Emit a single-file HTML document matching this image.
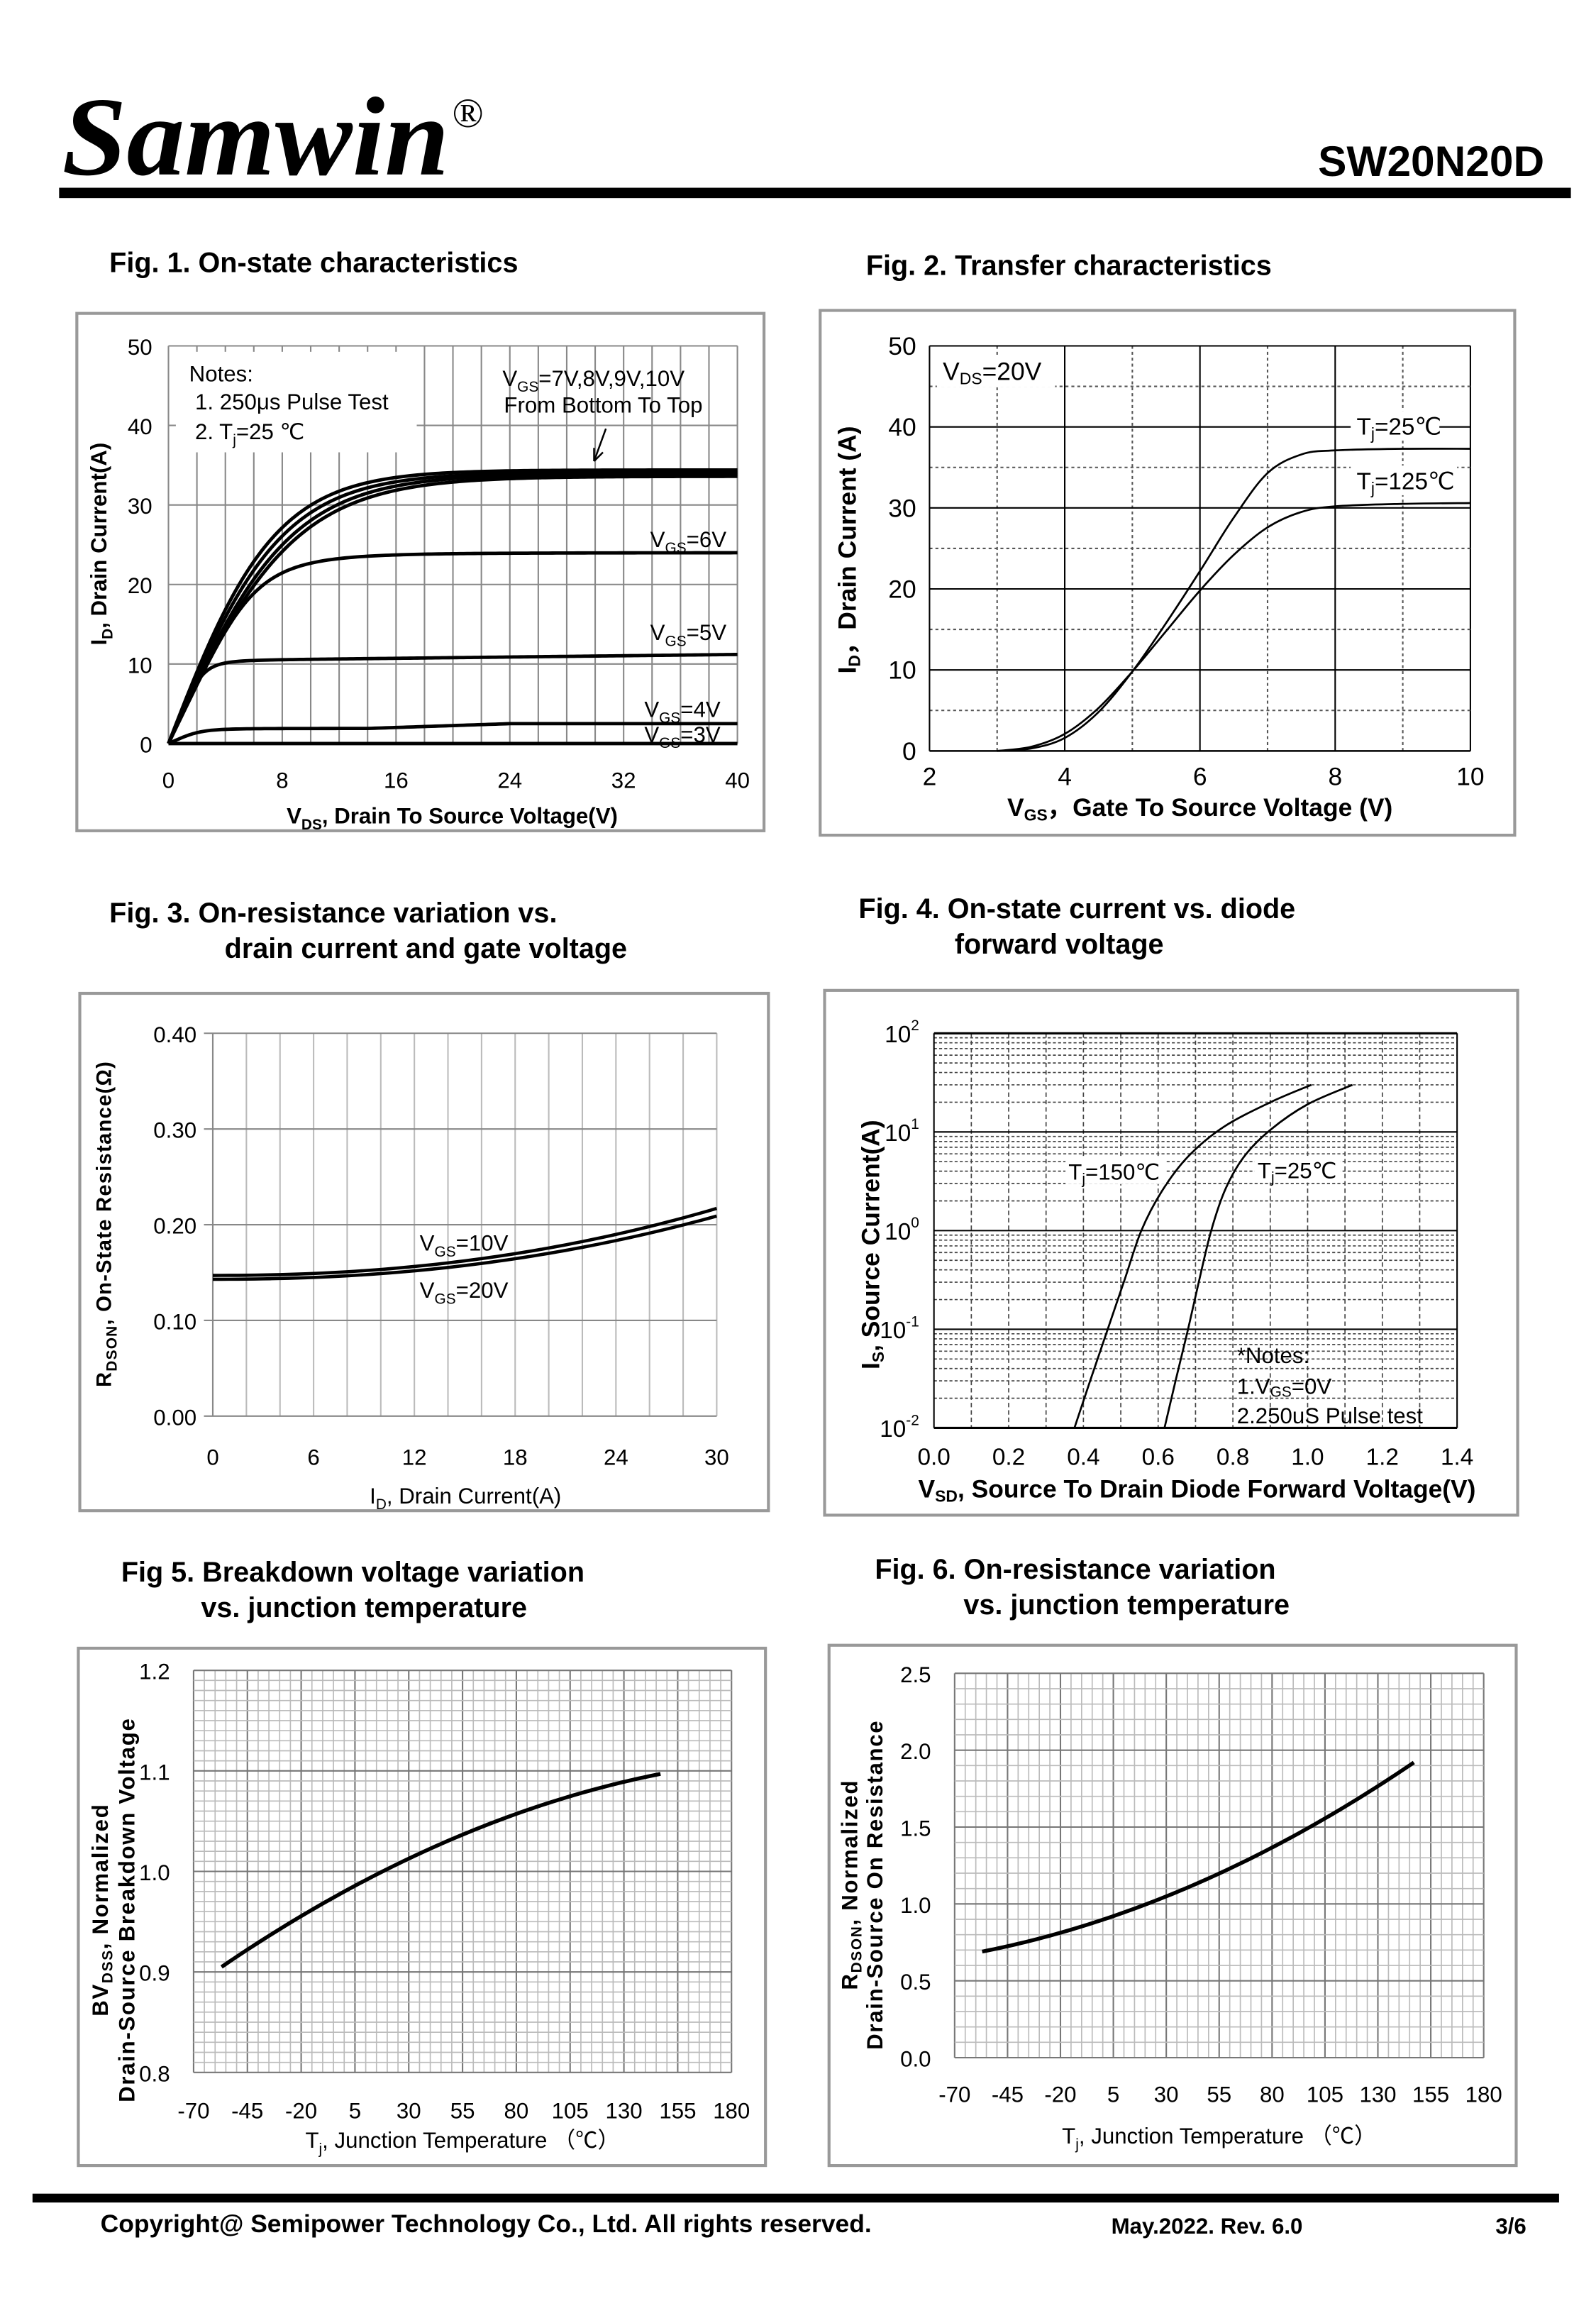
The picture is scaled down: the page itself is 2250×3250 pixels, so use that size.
<!DOCTYPE html>
<html><head><meta charset="utf-8">
<style>
html,body{margin:0;padding:0;background:#fff;}
svg{display:block;}
</style></head>
<body>
<svg id="s" width="2250" height="3250" viewBox="0 0 1080 1560" xmlns="http://www.w3.org/2000/svg" font-family="Liberation Sans, Arial, sans-serif">
<rect width="1080" height="1560" fill="#fff"/>
<text x="42" y="118" font-family="Liberation Serif, serif" font-style="italic" font-weight="bold" font-size="76" textLength="262" lengthAdjust="spacingAndGlyphs">Samwin</text>
<text x="306" y="86" font-family="Liberation Serif, serif" font-size="28">®</text>
<text x="1045" y="119" text-anchor="end" font-weight="bold" font-size="29">SW20N20D</text>
<rect x="40" y="127" width="1023" height="7" fill="#000"/>

<text x="74" y="184" font-weight="bold" font-size="19">Fig. 1. On-state characteristics</text>
<text x="586" y="186" font-weight="bold" font-size="19">Fig. 2. Transfer characteristics</text>
<text x="74" y="624" font-weight="bold" font-size="19">Fig. 3. On-resistance variation vs.</text>
<text x="152" y="648" font-weight="bold" font-size="19">drain current and gate voltage</text>
<text x="581" y="621" font-weight="bold" font-size="19">Fig. 4. On-state current vs. diode</text>
<text x="646" y="645" font-weight="bold" font-size="19">forward voltage</text>
<text x="82" y="1070" font-weight="bold" font-size="19">Fig 5. Breakdown voltage variation</text>
<text x="136" y="1094" font-weight="bold" font-size="19">vs. junction temperature</text>
<text x="592" y="1068" font-weight="bold" font-size="19">Fig. 6. On-resistance variation</text>
<text x="652" y="1092" font-weight="bold" font-size="19">vs. junction temperature</text>

<g id="g"></g>

<rect x="22" y="1484" width="1033" height="6" fill="#000"/>
<text x="68" y="1510" font-weight="bold" font-size="17">Copyright@ Semipower Technology Co., Ltd. All rights reserved.</text>
<text x="752" y="1511" font-weight="bold" font-size="15">May.2022. Rev. 6.0</text>
<text x="1012" y="1511" font-weight="bold" font-size="15">3/6</text>
</svg>
<script>
var g=document.getElementById('g');var h='';
function L(x1,y1,x2,y2,c,w,d){h+='<line x1="'+x1.toFixed(2)+'" y1="'+y1.toFixed(2)+'" x2="'+x2.toFixed(2)+'" y2="'+y2.toFixed(2)+'" stroke="'+(c||'#000')+'" stroke-width="'+(w||1)+'"'+(d?' stroke-dasharray="'+d+'"':'')+'/>';}
function T(x,y,s,fs,a,extra){h+='<text x="'+x+'" y="'+y+'" font-size="'+(fs||14)+'"'+(a?' text-anchor="'+a+'"':'')+(extra||'')+'>'+s+'</text>';}
function box(x1,y1,x2,y2){h+='<rect x="'+x1+'" y="'+y1+'" width="'+(x2-x1)+'" height="'+(y2-y1)+'" fill="none" stroke="#999" stroke-width="2"/>';}
function P(pts,w){var d='';pts.forEach(function(p,i){d+=(i?'L':'M')+p[0].toFixed(2)+' '+p[1].toFixed(2);});h+='<path d="'+d+'" fill="none" stroke="#000" stroke-width="'+(w||2)+'" stroke-linejoin="round"/>';}
function CR(pts,w){var d='M'+pts[0][0].toFixed(2)+' '+pts[0][1].toFixed(2);
for(var i=0;i<pts.length-1;i++){var p0=pts[i-1]||pts[i],p1=pts[i],p2=pts[i+1],p3=pts[i+2]||p2;
var c1=[p1[0]+(p2[0]-p0[0])/6,p1[1]+(p2[1]-p0[1])/6],c2=[p2[0]-(p3[0]-p1[0])/6,p2[1]-(p3[1]-p1[1])/6];
d+='C'+c1[0].toFixed(2)+' '+c1[1].toFixed(2)+' '+c2[0].toFixed(2)+' '+c2[1].toFixed(2)+' '+p2[0].toFixed(2)+' '+p2[1].toFixed(2);}
h+='<path d="'+d+'" fill="none" stroke="#000" stroke-width="'+(w||2)+'"/>';}
function VR(txt,x,y,fs,extra){h+='<text transform="translate('+x+','+y+') rotate(-90)" text-anchor="middle" font-size="'+fs+'" font-weight="bold"'+(extra||'')+'>'+txt+'</text>';}

// ---------- Fig 1 ----------
box(52,212,517,562);
(function(){var X0=114,X1=499,Y0=503,Y1=234;
function fx(v){return X0+(X1-X0)*v/40;}function fy(v){return Y0-(Y0-Y1)*v/50;}
for(var i=1;i<=20;i++){var x=fx(i*2);L(x,Y1,x,Y0,'#888',1);}
for(var j=0;j<=5;j++){L(X0,fy(j*10),X1,fy(j*10),'#888',1);}
L(X0,Y1,X0,Y0,'#888',1);
h+='<rect x="119" y="238" width="163" height="68" fill="#fff"/>';
for(j=0;j<=5;j++)T(103,fy(j*10)+6,j*10,15,'end');
for(i=0;i<=5;i++)T(fx(i*8),533,i*8,15,'middle');
T(128,258,'Notes:',15);T(132,277,'1. 250μs  Pulse Test',15);T(132,297,'2. T<tspan font-size="10" dy="4">j</tspan><tspan dy="-4">=25 ℃</tspan>',15);
T(340,261,'V<tspan font-size="10" dy="4">GS</tspan><tspan dy="-4">=7V,8V,9V,10V</tspan>',15);T(341,279,'From Bottom To Top',15);
L(410,290,402,312,'#000',1.2);L(402,312,402,303,'#000',1.2);L(402,312,408,306,'#000',1.2);
function soft(v,g,Is,n){var a=g*v;return Math.pow(Math.pow(a,-n)+Math.pow(Is,-n),-1/n);}
[[34.4,4.6],[34.1,4.3],[33.9,4.0],[33.6,3.8]].forEach(function(c){var pts=[];for(var v=0;v<=40;v+=0.25){pts.push([fx(v),fy(c[0]*Math.tanh(c[1]*v/c[0]))]);}P(pts,2.3);});
var p6=[[fx(0),fy(0)]];for(var v=0.25;v<=40;v+=0.25){p6.push([fx(v),fy(soft(v,3.7,24,3.5))]);}P(p6,2.3);
var p5=[[fx(0),fy(0)]];for(v=0.25;v<=40;v+=0.25){p5.push([fx(v),fy(soft(v,4.2,10.4,4)+0.8*v/40)]);}P(p5,2.3);
var p4=[[fx(0),fy(0)]];for(v=0.25;v<=40;v+=0.25){var I=soft(v,0.8,1.9,3)+(v>14?Math.min(0.6,(v-14)*0.06):0);p4.push([fx(v),fy(I)]);}P(p4,2.3);
L(X0,fy(0),X1,fy(0),'#000',2.3);
T(440,370,'V<tspan font-size="10" dy="4">GS</tspan><tspan dy="-4">=6V</tspan>',15);
T(440,433,'V<tspan font-size="10" dy="4">GS</tspan><tspan dy="-4">=5V</tspan>',15);
T(436,485,'V<tspan font-size="10" dy="4">GS</tspan><tspan dy="-4">=4V</tspan>',15);
T(436,502,'V<tspan font-size="10" dy="4">GS</tspan><tspan dy="-4">=3V</tspan>',15);
VR('I<tspan font-size="10" dy="4">D</tspan><tspan dy="-4">,  Drain Current(A)</tspan>',72,368,15);
T(306,557,'V<tspan font-size="10" dy="4">DS</tspan><tspan dy="-4">, Drain To Source Voltage(V)</tspan>',15,'middle',' font-weight="bold"');
})();

// ---------- Fig 2 ----------
box(555,210,1025,565);
(function(){var X0=629,X1=995,Y0=508,Y1=234;
function fx(v){return X0+(X1-X0)*(v-2)/8;}function fy(v){return Y0-(Y0-Y1)*v/50;}
for(var i=3;i<=10;i++){var x=fx(i);if(i%2)L(x,Y1,x,Y0,'#555',1,'2,2');else L(x,Y1,x,Y0,'#000',1);}
for(var j=5;j<=50;j+=5){var y=fy(j);if(j%10)L(X0,y,X1,y,'#555',1,'2,2');else L(X0,y,X1,y,'#000',1);}
L(X0,Y1,X0,Y0,'#000',1);L(X0,Y0,X1,Y0,'#000',1.2);
for(j=0;j<=50;j+=10)T(620,fy(j)+6,j,17,'end');
for(i=2;i<=10;i+=2)T(fx(i),531,i,17,'middle');
h+='<rect x="634" y="240" width="80" height="22" fill="#fff"/>';
T(638,257,'V<tspan font-size="11" dy="3">DS</tspan><tspan dy="-3">=20V</tspan>',17);
var a=[[3,0],[3.5,0.3],[4,1.6],[4.5,4.8],[5,9.8],[5.5,15.8],[6,22.2],[6.5,28.8],[7,34.3],[7.5,36.6],[8,37.1],[9,37.3],[10,37.3]];
var b=[[3,0],[3.5,0.5],[4,2.1],[4.5,5.3],[5,9.8],[5.5,14.8],[6,19.8],[6.5,24.2],[7,27.6],[7.5,29.5],[8,30.2],[9,30.5],[10,30.6]];
CR(a.map(function(p){return [fx(p[0]),fy(p[1])];}),1.3);
CR(b.map(function(p){return [fx(p[0]),fy(p[1])];}),1.3);
h+='<rect x="914" y="278" width="60" height="20" fill="#fff"/><rect x="914" y="315" width="72" height="20" fill="#fff"/>';
T(918,294,'T<tspan font-size="11" dy="3">j</tspan><tspan dy="-3">=25℃</tspan>',16);
T(918,331,'T<tspan font-size="11" dy="3">j</tspan><tspan dy="-3">=125℃</tspan>',16);
VR('I<tspan font-size="11" dy="3">D</tspan><tspan dy="-3">，Drain Current (A)</tspan>',579,372,17);
T(812,552,'V<tspan font-size="11" dy="3">GS</tspan><tspan dy="-3">，Gate To Source Voltage (V)</tspan>',17,'middle',' font-weight="bold"');
})();

// ---------- Fig 3 ----------
box(54,672,520,1022);
(function(){var X0=144,X1=485,Y0=958,Y1=699;
function fx(v){return X0+(X1-X0)*v/30;}function fy(v){return Y0-(Y0-Y1)*v/0.4;}
for(var i=0;i<=15;i++){var x=fx(i*2);L(x,Y1,x,Y0,'#bbb',1);}
for(var j=0;j<=4;j++){L(X0-6,fy(j*0.1),X1,fy(j*0.1),'#888',1);}
L(X0,Y1,X0,Y0,'#888',1);
for(j=0;j<=4;j++)T(133,fy(j*0.1)+6,(j*0.1).toFixed(2),15,'end');
for(i=0;i<=5;i++)T(fx(i*6),991,i*6,15,'middle');
var a=[],b=[];for(var v=0;v<=30;v+=0.5){a.push([fx(v),fy(0.147+0.07*Math.pow(v/30,2.2))]);b.push([fx(v),fy(0.143+0.066*Math.pow(v/30,2.2))]);}
P(a,2.2);P(b,2.2);
T(284,846,'V<tspan font-size="10" dy="4">GS</tspan><tspan dy="-4">=10V</tspan>',15);
T(284,878,'V<tspan font-size="10" dy="4">GS</tspan><tspan dy="-4">=20V</tspan>',15);
VR('R<tspan font-size="10" dy="4">DSON</tspan><tspan dy="-4">, On-State Resistance(Ω)</tspan>',75,828,14,' letter-spacing="0.6"');
T(315,1017,'I<tspan font-size="10" dy="4">D</tspan><tspan dy="-4">, Drain Current(A)</tspan>',15,'middle');
})();

// ---------- Fig 4 ----------
box(558,670,1027,1025);
(function(){var X0=632,X1=986,Y0=966,Y1=699;
function fx(v){return X0+(X1-X0)*v/1.4;}function fy(l){return Y0-(Y0-Y1)*(l+2)/4;}
for(var d=-2;d<2;d++){for(var k=2;k<=9;k++){L(X0,fy(d+Math.log10(k)),X1,fy(d+Math.log10(k)),'#444',0.8,'2,1.5');}}
for(var i=1;i<14;i++){var x=fx(i*0.1);L(x,Y1,x,Y0,'#444',0.8,'3,2');}
for(d=-2;d<=2;d++){L(X0,fy(d),X1,fy(d),'#000',d==-2||d==2?1.5:1);}
L(X0,Y1,X0,Y0,'#000',1);L(X1,Y1,X1,Y0,'#000',1);
for(d=2;d>=-2;d--)T(622,fy(d)+6,'10<tspan font-size="10" dy="-8">'+d+'</tspan>',16,'end');
for(i=0;i<=7;i++)T(fx(i*0.2),991,(i*0.2).toFixed(1),16,'middle');
var c150=[[0.376,-2],[0.42,-1.5],[0.465,-1],[0.51,-0.5],[0.555,0],[0.61,0.4],[0.68,0.75],[0.775,1.05],[0.9,1.3],[1.01,1.477]];
var c25=[[0.617,-2],[0.648,-1.5],[0.68,-1],[0.71,-0.5],[0.742,0],[0.78,0.42],[0.83,0.75],[0.9,1.02],[1.0,1.28],[1.12,1.477]];
CR(c150.map(function(p){return [fx(p[0]),fy(p[1])];}),1.3);
CR(c25.map(function(p){return [fx(p[0]),fy(p[1])];}),1.3);
h+='<rect x="721" y="783" width="68" height="18" fill="#fff"/><rect x="849" y="782" width="58" height="18" fill="#fff"/>';
T(723,798,'T<tspan font-size="10" dy="3">j</tspan><tspan dy="-3">=150℃</tspan>',15);
T(851,797,'T<tspan font-size="10" dy="3">j</tspan><tspan dy="-3">=25℃</tspan>',15);
T(837,922,'*Notes:',15);T(837,943,'1.V<tspan font-size="10" dy="2">GS</tspan><tspan dy="-2">=0V</tspan>',15);T(837,963,'2.250uS Pulse test',15);
VR('I<tspan font-size="11" dy="3">S</tspan><tspan dy="-3">, Source Current(A)</tspan>',595,842,17);
T(810,1013,'V<tspan font-size="11" dy="3">SD</tspan><tspan dy="-3">, Source To Drain Diode Forward Voltage(V)</tspan>',17,'middle',' font-weight="bold"');
})();

// ---------- Fig 5 & 6 ----------
function tempChart(bx,X0,X1,Y0,Y1,ymin,ymax,nmin,major,fmt,curveF,tly,xl,xly,ylabs){
box.apply(null,bx);
function fx(v){return X0+(X1-X0)*(v+70)/250;}function fy(v){return Y0-(Y0-Y1)*(v-ymin)/(ymax-ymin);}
for(var i=0;i<=50;i++){var x=fx(-70+i*5);L(x,Y1,x,Y0,i%5==0?'#777':'#bbb',i%5==0?1:0.8);}
for(var j=0;j<=nmin;j++){var y=Y0-(Y0-Y1)*j/nmin;L(X0,y,X1,y,j%major==0?'#777':'#bbb',j%major==0?1:0.8);}
for(j=0;j<=nmin;j+=major){var v=ymin+(ymax-ymin)*j/nmin;T(X0-16,Y0-(Y0-Y1)*j/nmin+6,v.toFixed(1),15,'end');}
for(i=0;i<=10;i++)T(fx(-70+i*25),tly,-70+i*25,15,'middle');
var pts=[];for(var t=-57;t<=147.01;t+=2)pts.push([fx(t),fy(curveF(t))]);P(pts,2.6);
T((X0+X1)/2,xly,xl,15,'middle');
ylabs.forEach(function(a){VR(a[0],a[1],a[2],15,' letter-spacing="0.8"');});
}
tempChart([53,1115,518,1465],131,495,1402,1130,0.8,1.2,40,10,1,function(t){var u=(t+57)/204;return 0.905+0.192*(1.55*u-0.55*u*u);},1433,
 'T<tspan font-size="10" dy="4">j</tspan><tspan dy="-4">, Junction Temperature （℃）</tspan>',1453,
 [['BV<tspan font-size="10" dy="3">DSS</tspan><tspan dy="-3">, Normalized</tspan>',73,1292],['Drain-Source Breakdown Voltage',91,1292]]);
tempChart([561,1113,1026,1465],646,1004,1392,1132,0,2.5,25,5,1,function(t){var u=(t+57)/204;return 0.69+1.23*(0.45*u+0.55*u*u);},1422,
 'T<tspan font-size="10" dy="4">j</tspan><tspan dy="-4">, Junction Temperature （℃）</tspan>',1450,
 [['R<tspan font-size="10" dy="3">DSON</tspan><tspan dy="-3">, Normalized</tspan>',580,1275],['Drain-Source On Resistance',597,1275]]);

g.innerHTML=h;
</script>
</body></html>
